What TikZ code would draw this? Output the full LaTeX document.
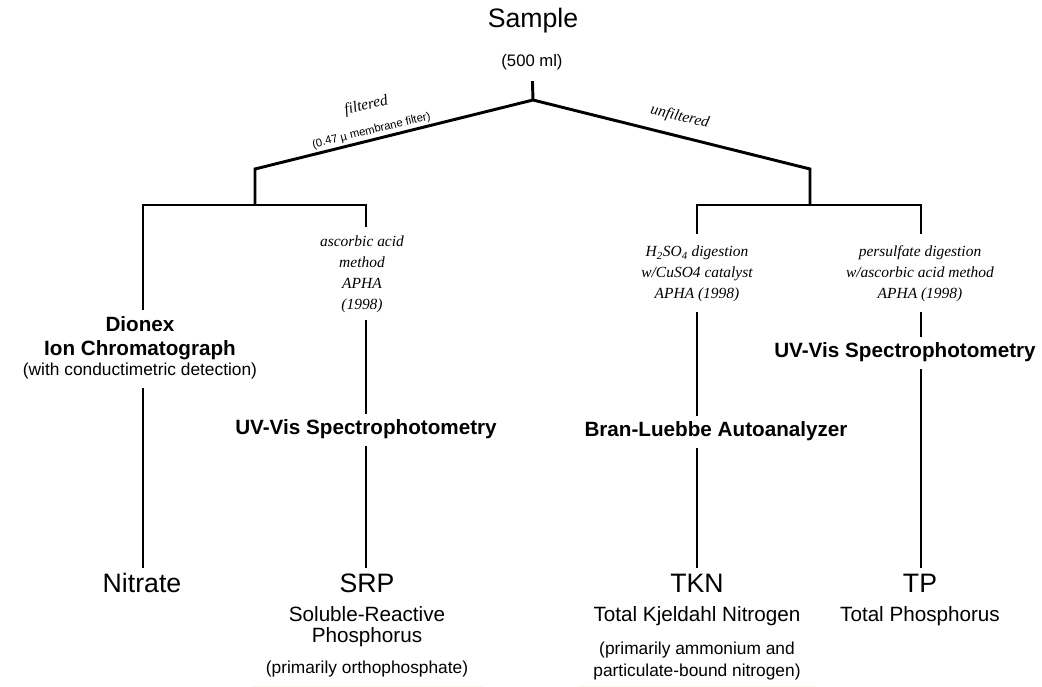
\documentclass[tikz,border=0pt]{standalone}
\usepackage{fontspec}
\setmainfont{Liberation Sans}
\newfontfamily\serifit{Liberation Serif}
\usetikzlibrary{fit,backgrounds}
\definecolor{cream}{RGB}{250,249,240}
\tikzset{
  base/.style={inner sep=0pt, text height=0.72em, text depth=0pt, anchor=center},
  big/.style={base, font=\fontsize{20}{24}\selectfont},
  sub/.style={base, font=\fontsize{15.5}{18}\selectfont},
  heavy/.style={base, font=\fontsize{15.5}{18}\selectfont\bfseries},
  note/.style={base, font=\fontsize{13}{15}\selectfont},
  meth/.style={base, font=\fontsize{11.6}{13}\selectfont\serifit\itshape},
  small/.style={base, font=\fontsize{8.5}{10}\selectfont},
  bg/.style={fill=cream, draw=none},
  link/.style={line width=2.2pt, line join=miter},
}
\begin{document}
\begin{tikzpicture}[x=0.75pt,y=-0.75pt]
\useasboundingbox (0,0) rectangle (1042,686);
\fill[white] (0,0) rectangle (1042,686);

% top
\node[big] (sample) at (533,23) {Sample};
\node[note, font=\fontsize{12.5}{15}\selectfont] (ml) at (532,62) {(500 ml)};
\coordinate (apex) at (533,100);
\coordinate (lj) at (255,169);
\coordinate (rj) at (810,169);
\coordinate (lbL) at (143,205);
\coordinate (lbR) at (366,205);
\coordinate (rbL) at (697,205);
\coordinate (rbR) at (921,205);

\node[meth, rotate=13.7] (filt) at (366,105) {filtered};
\node[small, rotate=13.7] (memb) at (371,129) {(0.47 µ membrane filter)};
\node[meth, rotate=-13.8] (unfilt) at (680,116) {unfiltered};

% method texts
\node[meth] (asc1) at (362,242) {ascorbic acid};
\node[meth] (asc2) at (362,263) {method};
\node[meth] (asc3) at (362,284) {APHA};
\node[meth] (asc4) at (362,305) {(1998)};

\node[meth] (h21) at (697,252) {H\textsubscript{2}SO\textsubscript{4} digestion};
\node[meth] (h22) at (697,273) {w/CuSO4 catalyst};
\node[meth] (h23) at (697,294) {APHA (1998)};

\node[meth] (per1) at (920,252) {persulfate digestion};
\node[meth] (per2) at (920,273) {w/ascorbic acid method};
\node[meth] (per3) at (920,294) {APHA (1998)};

% instruments
\node[heavy] (dio1) at (140,327) {Dionex};
\node[heavy] (dio2) at (140,351) {Ion Chromatograph};
\node[note] (dio3) at (140,371) {(with conductimetric detection)};

\node[heavy] (uvl) at (366,430) {UV-Vis Spectrophotometry};
\node[heavy] (bran) at (716,432) {Bran-Luebbe Autoanalyzer};
\node[heavy] (uvr) at (905,353) {UV-Vis Spectrophotometry};

% results
\node[big] (nit) at (142,588) {Nitrate};

\node[big] (srp) at (367,588) {SRP};
\node[sub] (srp1) at (367,617) {Soluble-Reactive};
\node[sub] (srp2) at (367,638) {Phosphorus};
\node[note] (srp3) at (367,669) {(primarily orthophosphate)};

\node[big] (tkn) at (697,588) {TKN};
\node[sub] (tkn1) at (697,617) {Total Kjeldahl Nitrogen};
\node[note] (tkn2) at (697,650) {(primarily ammonium and};
\node[note] (tkn3) at (697,672) {particulate-bound nitrogen)};

\node[big] (tp) at (920,588) {TP};
\node[sub] (tp1) at (920,617) {Total Phosphorus};

% background boxes
\begin{scope}[on background layer]
  \node[bg, inner sep=7.5pt, fit=(asc1)(asc4)] (ascbox) {};
  \node[bg, inner sep=9.5pt, fit=(h21)(h23)] (h2box) {};
  \node[bg, inner sep=9.5pt, fit=(per1)(per3)] (perbox) {};
  \node[bg, inner sep=9pt, fit=(dio1)(dio2)(dio3)] (diobox) {};
  \node[bg, inner sep=8pt, fit=(uvl)] (uvlbox) {};
  \node[bg, inner sep=8pt, fit=(bran)] (branbox) {};
  \node[bg, inner sep=8pt, fit=(uvr)] (uvrbox) {};
  \node[bg, inner sep=11pt, fit=(nit)] (nitbox) {};
  \node[bg, inner sep=11pt, fit=(srp)(srp1)(srp2)(srp3)] (srpbox) {};
  \node[bg, inner sep=11pt, fit=(tkn)(tkn1)(tkn2)(tkn3)] (tknbox) {};
  \node[bg, inner sep=11pt, fit=(tp)(tp1)] (tpbox) {};
\end{scope}

% connectors
\draw[link, shorten <=10.5pt] (ml.south) -- (apex);
\draw[link] (lj |- lbL) -- (lj) -- (apex) -- (rj) -- (rj |- rbL);
\draw[link] (diobox.north -| lbL) -- (lbL) -- (lbR) -- (ascbox.north -| lbR);
\draw[link] (h2box.north -| rbL) -- (rbL) -- (rbR) -- (perbox.north -| rbR);
\draw[link] (diobox.south -| lbL) -- (nitbox.north -| lbL);
\draw[link] (ascbox.south -| lbR) -- (uvlbox.north -| lbR);
\draw[link] (uvlbox.south -| lbR) -- (srpbox.north -| lbR);
\draw[link] (h2box.south -| rbL) -- (branbox.north -| rbL);
\draw[link] (branbox.south -| rbL) -- (tknbox.north -| rbL);
\draw[link] (perbox.south -| rbR) -- (uvrbox.north -| rbR);
\draw[link] (uvrbox.south -| rbR) -- (tpbox.north -| rbR);
\end{tikzpicture}
\end{document}
